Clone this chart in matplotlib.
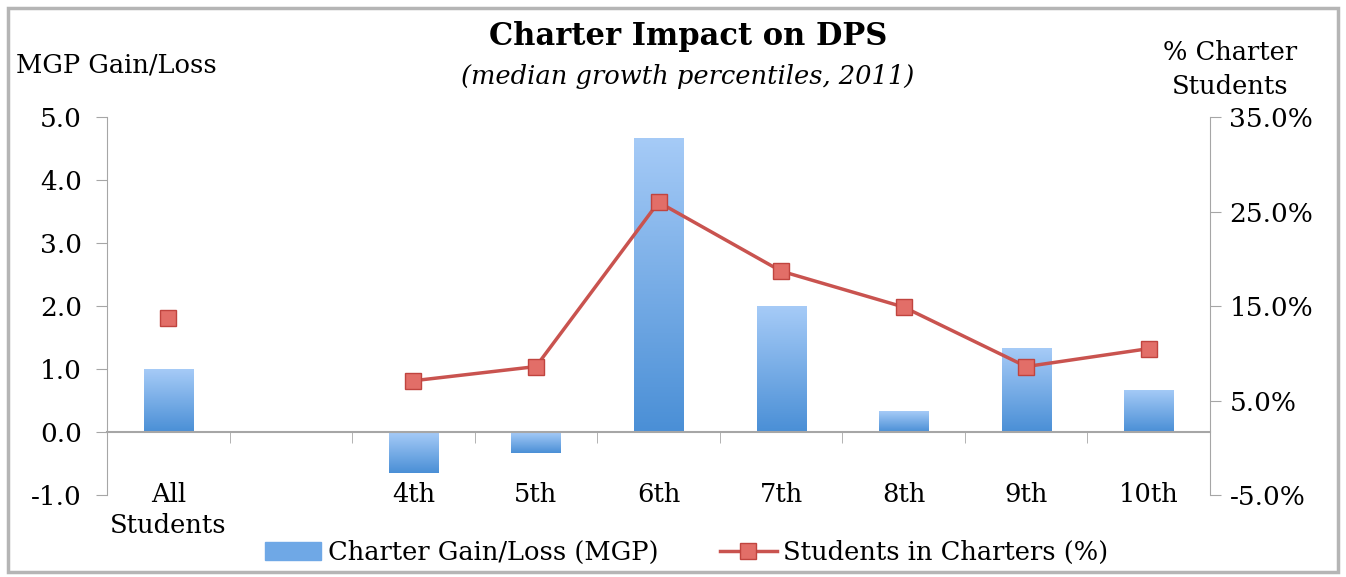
import numpy as np
import matplotlib
matplotlib.use("Agg")
import matplotlib.pyplot as plt
from matplotlib.colors import LinearSegmentedColormap
from matplotlib.lines import Line2D
from matplotlib.patches import Rectangle

categories = ["All\nStudents", "", "4th", "5th", "6th", "7th", "8th", "9th", "10th"]
mgp_gain = [1.0, np.nan, -0.65, -0.33, 4.67, 2.0, 0.33, 1.33, 0.67]
pct_charter = [13.7, np.nan, 7.1, 8.6, 26.0, 18.7, 14.9, 8.6, 10.5]

plt.rcParams['font.family'] = ['DejaVu Serif']
gray = '#a6a6a6'
red = '#c9534f'
blue_cmap = LinearSegmentedColormap.from_list('blu', ['#a6cbf7', '#4a8fd6'])
fs = 18.5

fig = plt.figure(figsize=(13.46, 5.77), dpi=100)
ax = fig.add_axes([0.0795, 0.142, 0.8195, 0.655])
x = np.arange(len(categories))

# bars with vertical gradient
bars = ax.bar(x, np.nan_to_num(mgp_gain), width=0.4, color='none', zorder=2)
grad = np.linspace(0, 1, 256).reshape(-1, 1)
for b, v in zip(bars, mgp_gain):
    if np.isnan(v):
        continue
    x0 = b.get_x()
    im = ax.imshow(grad, cmap=blue_cmap, aspect='auto', zorder=2,
                   extent=[x0, x0 + b.get_width(), min(0, v), max(0, v)], origin='upper')
    im.set_clip_path(b)

ax.set_xlim(-0.5, len(categories) - 0.5)
ax.set_ylim(-1, 5)
ax.set_yticks(np.arange(-1, 6, 1))
ax.set_yticklabels(["%.1f" % t for t in np.arange(-1, 6, 1)], fontsize=fs + 0.5)
ax.tick_params(axis='y', direction='out', length=8, color=gray, pad=10)

ax.spines['top'].set_visible(False)
ax.spines['right'].set_visible(False)
ax.spines['left'].set_color(gray)
ax.spines['bottom'].set_position(('data', 0))
ax.spines['bottom'].set_color(gray)
ax.spines['bottom'].set_linewidth(1.5)

ax.set_xticks(x)
ax.set_xticklabels(categories, fontsize=fs, linespacing=1.3)
ax.tick_params(axis='x', length=0, pad=36)
ax.set_xticks(x[:-1] + 0.5, minor=True)
ax.tick_params(axis='x', which='minor', direction='out', length=8, color=gray)

ax2 = ax.twinx()
ax2.plot(x, pct_charter, color=red, lw=2.5, marker='s', markersize=11,
         markerfacecolor='#e26e68', markeredgecolor='#c0443f', zorder=3)
ax2.set_ylim(-5, 35)
ax2.set_yticks(np.arange(-5, 36, 10))
ax2.set_yticklabels(["%.1f%%" % t for t in np.arange(-5, 36, 10)], fontsize=fs + 0.5)
ax2.tick_params(axis='y', direction='out', length=8, color=gray, pad=6)
for s in ['top', 'bottom', 'left']:
    ax2.spines[s].set_visible(False)
ax2.spines['right'].set_color(gray)

fig.text(0.511, 0.937, "Charter Impact on DPS", ha='center', va='center',
         fontsize=22, fontweight='bold')
fig.text(0.511, 0.868, "(median growth percentiles, 2011)", ha='center', va='center',
         fontsize=fs, style='italic')
fig.text(0.012, 0.888, "MGP Gain/Loss", ha='left', va='center', fontsize=fs)
fig.text(0.914, 0.879, "% Charter\nStudents", ha='center', va='center', fontsize=fs,
         linespacing=1.45)

handles = [Rectangle((0, 0), 1, 1, color='#6fa8e6'),
           Line2D([], [], color=red, lw=2.5, marker='s', markersize=11,
                  markerfacecolor='#e26e68', markeredgecolor='#c0443f')]
fig.legend(handles, ["Charter Gain/Loss (MGP)", "Students in Charters (%)"],
           loc='center', bbox_to_anchor=(0.51, 0.043), ncol=2, frameon=False,
           fontsize=fs, handlelength=2.2, handletextpad=0.25, columnspacing=2.4)

fig.patches.append(Rectangle((0.006, 0.008), 0.988, 0.978, transform=fig.transFigure,
                             fill=False, edgecolor='#b5b5b5', lw=2.5))

fig.savefig("out.png", dpi=100)
